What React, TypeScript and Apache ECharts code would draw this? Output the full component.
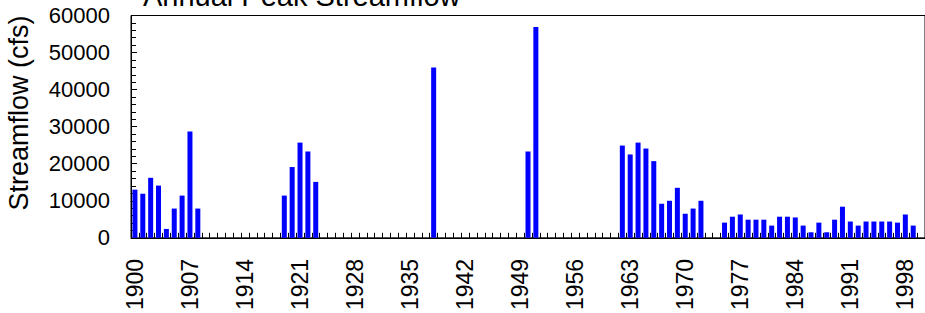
import React, { useEffect, useRef } from "react";
import * as echarts from "echarts";

const firstYear = 1900;
const lastYear = 2000;
const years: string[] = [];
for (let y = firstYear; y <= lastYear; y++) years.push(String(y));

const peakYears = [
  1900, 1901, 1902, 1903, 1904, 1905, 1906, 1907, 1908,
  1919, 1920, 1921, 1922, 1923,
  1938,
  1950, 1951,
  1962, 1963, 1964, 1965, 1966, 1967, 1968, 1969, 1970, 1971, 1972,
  1975, 1976, 1977, 1978, 1979, 1980, 1981, 1982, 1983, 1984, 1985, 1986,
  1987, 1988, 1989, 1990, 1991, 1992, 1993, 1994, 1995, 1996, 1997, 1998, 1999,
];
const peakFlows = [
  13000, 11900, 16200, 14100, 2400, 7900, 11400, 28700, 7900,
  11400, 19100, 25700, 23300, 15100,
  46000,
  23300, 56900,
  24900, 22500, 25700, 24100, 20700, 9200, 10000, 13500, 6500, 7900, 10000,
  4100, 5700, 6300, 4900, 4900, 4900, 3300, 5700, 5700, 5500, 3300, 1500,
  4100, 1500, 4900, 8400, 4400, 3300, 4400, 4400, 4400, 4400, 4100, 6300, 3300,
];

const titleText = "Annual Peak Streamflow";
const yAxisTitle = "Streamflow (cfs)";

const FONT = "'Liberation Sans', Arial, sans-serif";

export default function App() {
  const ref = useRef<HTMLDivElement>(null);
  useEffect(() => {
    if (!ref.current) return;
    const chart = echarts.init(ref.current, null, { renderer: "svg" });
    const flowByYear: Record<string, number> = {};
    peakYears.forEach((y, i) => (flowByYear[String(y)] = peakFlows[i]));
    const data = years.map((y) => (y in flowByYear ? flowByYear[y] : null));
    chart.setOption({
      animation: false,
      backgroundColor: "#ffffff",
      textStyle: { fontFamily: FONT },
      grid: {
        left: 131,
        top: 15.5,
        width: 800,
        height: 225,
        show: true,
        borderColor: "#000",
        borderWidth: 1,
        backgroundColor: "transparent",
      },
      graphic: [
        {
          type: "text",
          left: 143,
          top: -19,
          style: {
            text: titleText,
            fontSize: 29,
            fontFamily: FONT,
            fill: "#000",
          },
        },
        {
          type: "text",
          x: 18.5,
          y: 113,
          rotation: Math.PI / 2,
          style: {
            text: yAxisTitle,
            fontSize: 27,
            fontFamily: FONT,
            fill: "#000",
            align: "center",
            verticalAlign: "middle",
          },
        },
      ],
      xAxis: {
        type: "category",
        data: years,
        boundaryGap: true,
        axisLine: { show: true, lineStyle: { color: "#000", width: 1 } },
        axisTick: {
          show: true,
          inside: true,
          interval: 0,
          length: 5,
          lineStyle: { color: "#000", width: 1 },
        },
        axisLabel: {
          interval: 6,
          rotate: 90,
          margin: 21,
          fontSize: 23,
          color: "#000",
          fontFamily: FONT,
        },
        splitLine: { show: false },
      },
      yAxis: {
        type: "value",
        min: 0,
        max: 60000,
        interval: 10000,
        axisLine: { show: true, lineStyle: { color: "#000", width: 1 } },
        axisTick: {
          show: true,
          inside: true,
          length: 6,
          lineStyle: { color: "#000", width: 1 },
        },
        minorTick: {
          show: true,
          splitNumber: 5,
          length: 5,
          lineStyle: { color: "#000", width: 1 },
        },
        axisLabel: {
          margin: 21,
          fontSize: 22,
          color: "#000",
          fontFamily: FONT,
          formatter: (v: number) => String(v),
        },
        splitLine: { show: false },
      },
      series: [
        {
          type: "bar",
          data,
          barWidth: 5,
          itemStyle: { color: "#0000ff" },
        },
      ],
    });
    return () => chart.dispose();
  }, []);
  return (
    <div
      ref={ref}
      style={{ position: "absolute", left: 0, top: 0, width: 925, height: 313 }}
    />
  );
}
